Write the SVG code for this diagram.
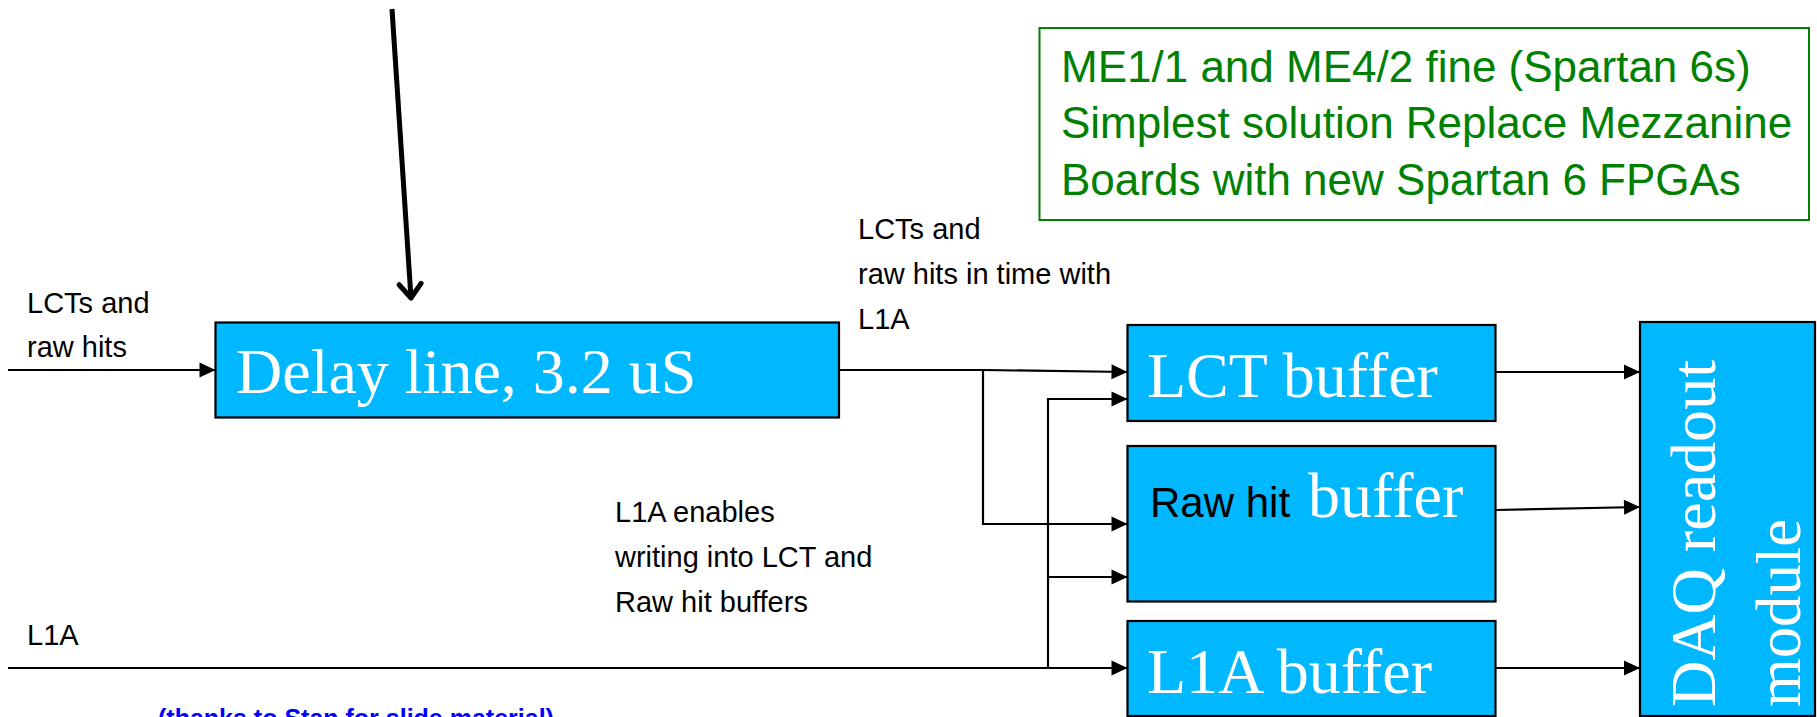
<svg xmlns="http://www.w3.org/2000/svg" width="1817" height="717" viewBox="0 0 1817 717">
<style>
.box{fill:#00B8FF;stroke:#000;stroke-width:2.2}
.lbl{font-family:"Liberation Sans",Arial,sans-serif;font-size:29px;fill:#000}
.big{font-family:"Liberation Serif","Times New Roman",serif;font-size:64px;fill:#fff}
.green{font-family:"Liberation Sans",Arial,sans-serif;font-size:44px;fill:#008000}
.ln{fill:none;stroke:#000;stroke-width:2.2}
</style>
<defs>
<marker id="tri" markerUnits="userSpaceOnUse" markerWidth="20" markerHeight="20" refX="16" refY="7.5" orient="auto" overflow="visible">
<path d="M0,0 L16,7.5 L0,15 Z" fill="#000"/>
</marker>
<marker id="vee" markerUnits="userSpaceOnUse" markerWidth="30" markerHeight="30" refX="0" refY="0" orient="auto" overflow="visible">
<path d="M-14,-11 L0,0 L-14,11" fill="none" stroke="#000" stroke-width="5" stroke-linecap="round" stroke-linejoin="round"/>
</marker>
</defs>
<rect width="1817" height="717" fill="#fff"/>

<g id="note">
<rect x="1039.5" y="28" width="769.5" height="192" fill="none" stroke="#008000" stroke-width="2"/>
<text class="green" x="1061" y="82">ME1/1 and ME4/2 fine (Spartan 6s)</text>
<text class="green" x="1061" y="138">Simplest solution Replace Mezzanine</text>
<text class="green" x="1061" y="195">Boards with new Spartan 6 FPGAs</text>
</g>

<g id="delay">
<rect class="box" x="215.5" y="322.5" width="623.5" height="95"/>
<text class="big" x="236" y="393">Delay line, 3.2 uS</text>
</g>

<g id="lct-buffer">
<rect class="box" x="1127.5" y="325" width="368" height="96"/>
<text class="big" x="1147" y="397">LCT buffer</text>
</g>

<g id="raw-buffer">
<rect class="box" x="1127.5" y="446" width="368" height="155.5"/>
<text x="1150" y="517" font-family="Liberation Sans, Arial, sans-serif" font-size="42" fill="#000">Raw hit</text>
<text class="big" x="1308" y="517">buffer</text>
</g>

<g id="l1a-buffer">
<rect class="box" x="1127.5" y="621" width="368" height="95"/>
<text class="big" x="1147" y="693">L1A buffer</text>
</g>

<g id="daq">
<rect class="box" x="1640" y="322" width="175" height="394"/>
<text class="big" font-size="56" transform="translate(1715,707) rotate(-90)" textLength="347" lengthAdjust="spacingAndGlyphs">DAQ readout</text>
<text class="big" font-size="56" transform="translate(1800,707) rotate(-90)" textLength="188" lengthAdjust="spacingAndGlyphs">module</text>
</g>

<g id="labels">
<text class="lbl" x="27" y="313">LCTs and</text>
<text class="lbl" x="27" y="357">raw hits</text>
<text class="lbl" x="858" y="239">LCTs and</text>
<text class="lbl" x="858" y="284">raw hits in time with</text>
<text class="lbl" x="858" y="329">L1A</text>
<text class="lbl" x="615" y="522">L1A enables</text>
<text class="lbl" x="615" y="567">writing into LCT and</text>
<text class="lbl" x="615" y="612">Raw hit buffers</text>
<text class="lbl" x="27" y="645">L1A</text>
<text x="158" y="727" font-family="Liberation Sans, Arial, sans-serif" font-size="25" font-weight="bold" fill="#0000FF">(thanks to Stan for slide material)</text>
</g>

<g id="connectors">
<line x1="392" y1="9" x2="411" y2="298" stroke="#000" stroke-width="5" marker-end="url(#vee)"/>
<line class="ln" x1="8" y1="370" x2="215.5" y2="370" marker-end="url(#tri)"/>
<polyline class="ln" points="839,370 983,370 1127.5,372" marker-end="url(#tri)"/>
<polyline class="ln" points="983,370 983,524 1127.5,524" marker-end="url(#tri)"/>
<line class="ln" x1="8" y1="668" x2="1127.5" y2="668" marker-end="url(#tri)"/>
<polyline class="ln" points="1048,668 1048,399 1127.5,399" marker-end="url(#tri)"/>
<line class="ln" x1="1048" y1="577" x2="1127.5" y2="577" marker-end="url(#tri)"/>
<line class="ln" x1="1495.5" y1="372" x2="1640" y2="372" marker-end="url(#tri)"/>
<line class="ln" x1="1495.5" y1="510" x2="1640" y2="507" marker-end="url(#tri)"/>
<line class="ln" x1="1495.5" y1="668" x2="1640" y2="668" marker-end="url(#tri)"/>
</g>
</svg>
